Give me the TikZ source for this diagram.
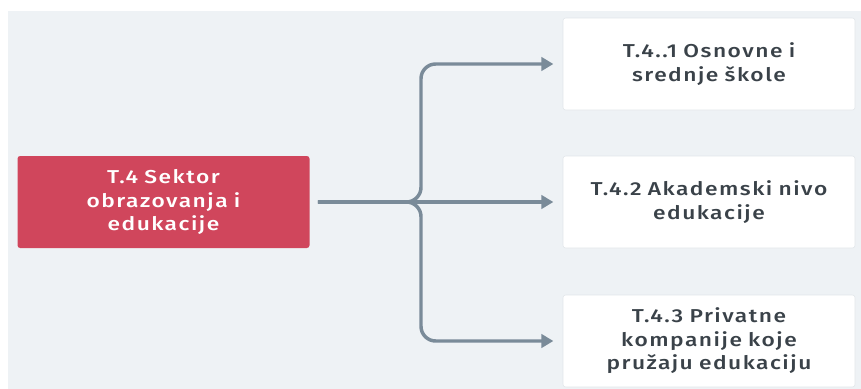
\documentclass[tikz,border=0pt]{standalone}
\usepackage{fontspec}
\setmainfont{Fira Sans}[BoldFont={Fira Sans Medium},BoldFeatures={LetterSpace=8,FakeStretch=1.22}]
\usetikzlibrary{arrows.meta}
\definecolor{panelbg}{HTML}{EEF2F5}
\definecolor{rootred}{HTML}{D0465C}
\definecolor{linkgray}{HTML}{7A8B99}
\definecolor{inktext}{HTML}{3A4249}
\definecolor{edgegray}{HTML}{E2E6EA}
\tikzset{
  px/.style={x=0.75pt,y=-0.75pt},
  box/.style={minimum width=292*0.75pt, minimum height=92*0.75pt, rounded corners=2pt,
    align=center, font=\fontsize{14}{17.6}\selectfont\bfseries, text width=275*0.75pt,
    inner sep=0pt},
  rootbox/.style={box, fill=rootred, text=white},
  leafbox/.style={box, fill=white, draw=edgegray, line width=0.4pt, text=inktext},
  link/.style={draw=linkgray, line width=2.6pt, rounded corners=11pt,
    -{Triangle[length=9pt,width=10pt]}},
}
\begin{document}
\begin{tikzpicture}[px]
\useasboundingbox (0,0) rectangle (861,389);
\fill[white] (0,0) rectangle (861,389);
\fill[panelbg] (8,11) rectangle (861,389);

\node[rootbox] (root) at (163.5,202) {T.4 Sektor\\ obrazovanja i\\ edukacije};
\node[leafbox] (a) at (709,64) {T.4..1 Osnovne i\\ srednje škole};
\node[leafbox] (b) at (709,202) {T.4.2 Akademski nivo\\ edukacije};
\node[leafbox] (c) at (709,341) {T.4.3 Privatne\\ kompanije koje\\ pružaju edukaciju};

\coordinate (start) at ([xshift=6pt]root.east);
\coordinate (split) at (421,0 |- start);
\path[link] (start) -- (split) |- ([xshift=-7pt]a.west);
\path[link] (start) -- (split) |- ([xshift=-7pt]c.west);
\path[link] (start) -- ([xshift=-7pt]b.west |- start);
\end{tikzpicture}
\end{document}
